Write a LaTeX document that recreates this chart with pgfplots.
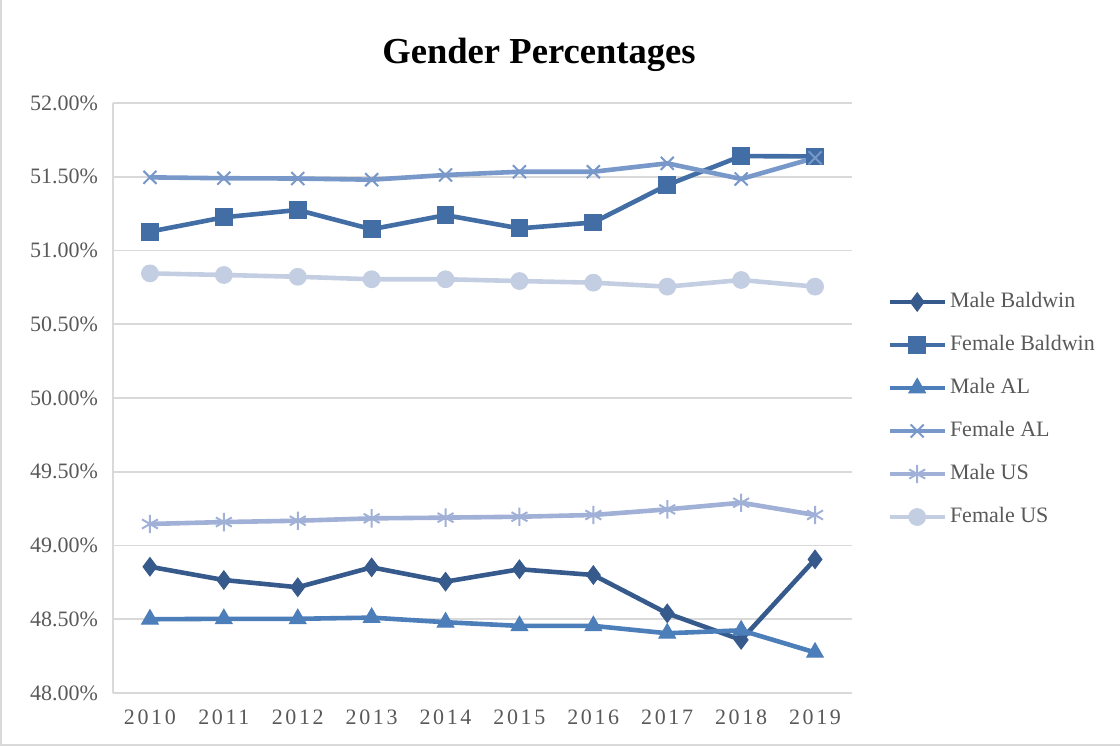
\documentclass[border=0pt]{standalone}
\usepackage{fontspec}
\setmainfont{Liberation Serif}
\newfontfamily\spaced[LetterSpace=12]{Liberation Serif}
\usepackage{pgfplots}
\pgfplotsset{compat=1.18}
\definecolor{cMB}{RGB}{55,90,140}
\definecolor{cFB}{RGB}{66,110,165}
\definecolor{cMA}{RGB}{76,126,186}
\definecolor{cFA}{RGB}{120,152,202}
\definecolor{cMU}{RGB}{160,176,214}
\definecolor{cFU}{RGB}{196,206,226}
\definecolor{txt}{RGB}{89,89,89}
\definecolor{grd}{RGB}{217,217,217}
\begin{document}
\begin{tikzpicture}
\path[use as bounding box] (0pt,0pt) rectangle (560pt,373pt);
\draw[grd, line width=0.8pt] (0.5pt,373pt) -- (0.5pt,0.5pt) -- (560pt,0.5pt);
\node[font=\bfseries\fontsize{18.3}{21}\selectfont] at (269.5pt,345.5pt) {Gender Percentages};
\begin{axis}[
  at={(56.5pt,26.5pt)}, anchor=south west,
  scale only axis, width=369.5pt, height=295pt,
  xmin=2009.5, xmax=2019.5, ymin=48, ymax=52,
  xtick={2010,...,2019},
  xticklabels={2010,2011,2012,2013,2014,2015,2016,2017,2018,2019},
  x tick label style={font=\spaced\fontsize{11}{13}\selectfont, text=txt, yshift=-5pt},
  ytick={48,48.5,...,52},
  yticklabels={48.00\%,48.50\%,49.00\%,49.50\%,50.00\%,50.50\%,51.00\%,51.50\%,52.00\%},
  y tick label style={font=\fontsize{11}{13}\selectfont, text=txt, xshift=-4pt},
  major tick length=0pt,
  axis x line=bottom, axis y line=left,
  axis line style={grd, line width=0.9pt, -},
  ymajorgrids, grid style={grd, line width=0.9pt},
  legend style={at={(1,0.4805)}, anchor=west, xshift=14.5pt, draw=none, fill=none,
    font=\fontsize{11}{13}\selectfont, text=txt, row sep=7pt,
    nodes={text height=8pt, text depth=2.5pt, inner xsep=1.5pt}},
  legend cell align=left,
  legend image code/.code={\draw[#1, mark repeat=2, mark phase=2] plot coordinates {(0pt,0pt) (13.75pt,0pt) (27.5pt,0pt)};},
  every axis plot/.append style={line width=2.3pt},
]
\addplot[cMB, mark=diamond*, mark size=4.6pt, mark options={solid, fill=cMB, line width=0.5pt}] coordinates {
(2010,48.856) (2011,48.766) (2012,48.717) (2013,48.852) (2014,48.755) (2015,48.839) (2016,48.800) (2017,48.540) (2018,48.360) (2019,48.906)};
\addlegendentry{Male Baldwin}
\addplot[cFB, mark=square*, mark size=4.2pt, mark options={solid, fill=cFB, line width=0.5pt}] coordinates {
(2010,51.128) (2011,51.225) (2012,51.275) (2013,51.144) (2014,51.240) (2015,51.150) (2016,51.190) (2017,51.444) (2018,51.640) (2019,51.638)};
\addlegendentry{Female Baldwin}
\addplot[cMA, mark=triangle*, mark size=4.8pt, mark options={solid, fill=cMA, line width=0.5pt}] coordinates {
(2010,48.500) (2011,48.503) (2012,48.503) (2013,48.511) (2014,48.480) (2015,48.455) (2016,48.455) (2017,48.405) (2018,48.425) (2019,48.275)};
\addlegendentry{Male AL}
\addplot[cFA, mark=x, mark size=4.6pt, mark options={solid, line width=1pt}] coordinates {
(2010,51.496) (2011,51.490) (2012,51.488) (2013,51.480) (2014,51.512) (2015,51.534) (2016,51.534) (2017,51.591) (2018,51.485) (2019,51.628)};
\addlegendentry{Female AL}
\addplot[cMU, mark=asterisk, mark size=4.6pt, mark options={solid, line width=1pt}] coordinates {
(2010,49.146) (2011,49.159) (2012,49.168) (2013,49.184) (2014,49.189) (2015,49.195) (2016,49.207) (2017,49.245) (2018,49.290) (2019,49.207)};
\addlegendentry{Male US}
\addplot[cFU, mark=*, mark size=4.2pt, mark options={solid, fill=cFU, draw=cFU, line width=0.5pt}] coordinates {
(2010,50.845) (2011,50.834) (2012,50.822) (2013,50.805) (2014,50.805) (2015,50.793) (2016,50.782) (2017,50.755) (2018,50.800) (2019,50.755)};
\addlegendentry{Female US}
\end{axis}
\end{tikzpicture}
\end{document}
